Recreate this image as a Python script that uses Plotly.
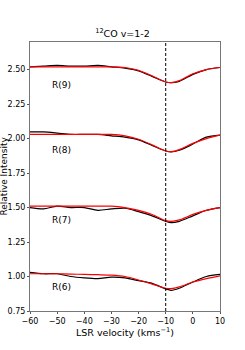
import plotly.graph_objects as go

vel = [-60, -55, -50, -45, -40, -35, -30, -25, -20, -15, -10, -8, -5, 0, 5, 10]

r9_obs = [2.52, 2.525, 2.53, 2.525, 2.525, 2.53, 2.52, 2.51, 2.49, 2.45, 2.41, 2.405, 2.415, 2.465, 2.50, 2.515]
r9_fit = [2.52, 2.52, 2.52, 2.52, 2.52, 2.52, 2.52, 2.515, 2.495, 2.455, 2.41, 2.405, 2.42, 2.47, 2.50, 2.515]

r8_obs = [2.048, 2.048, 2.04, 2.03, 2.03, 2.03, 2.02, 2.01, 1.99, 1.95, 1.91, 1.903, 1.915, 1.96, 2.01, 2.025]
r8_fit = [2.03, 2.03, 2.03, 2.03, 2.03, 2.03, 2.03, 2.02, 1.995, 1.955, 1.91, 1.905, 1.92, 1.965, 2.0, 2.025]

r7_obs = [1.50, 1.49, 1.51, 1.50, 1.50, 1.48, 1.49, 1.495, 1.47, 1.44, 1.40, 1.39, 1.40, 1.44, 1.48, 1.50]
r7_fit = [1.51, 1.51, 1.51, 1.51, 1.51, 1.51, 1.51, 1.50, 1.48, 1.45, 1.405, 1.40, 1.41, 1.45, 1.48, 1.50]

r6_obs = [1.03, 1.02, 1.02, 1.00, 0.99, 0.985, 0.995, 0.99, 0.97, 0.95, 0.91, 0.90, 0.915, 0.96, 1.0, 1.015]
r6_fit = [1.02, 1.02, 1.02, 1.018, 1.015, 1.013, 1.01, 1.0, 0.975, 0.945, 0.915, 0.912, 0.925, 0.96, 0.985, 1.005]

labels = ["R(9)", "R(8)", "R(7)", "R(6)"]
label_x = [-48.5, -48.5, -48.5, -48.5]
label_y = [2.39, 1.92, 1.41, 0.925]

x_ticks = [-60, -50, -40, -30, -20, -10, 0, 10]
y_ticks = [0.75, 1.00, 1.25, 1.50, 1.75, 2.00, 2.25, 2.50]
rest_velocity = -10

fig = go.Figure()
for obs, fit in [(r9_obs, r9_fit), (r8_obs, r8_fit), (r7_obs, r7_fit), (r6_obs, r6_fit)]:
    fig.add_trace(go.Scatter(x=vel, y=obs, mode="lines", line=dict(color="black", width=1.2, shape="spline", smoothing=0.8), showlegend=False))
    fig.add_trace(go.Scatter(x=vel, y=fit, mode="lines", line=dict(color="red", width=1.2, shape="spline", smoothing=0.8), showlegend=False))

fig.add_vline(x=rest_velocity, line=dict(color="black", width=1, dash="3px,2px"))

for t, xx, yy in zip(labels, label_x, label_y):
    fig.add_annotation(x=xx, y=yy, text=t, showarrow=False, font=dict(size=9, color="black", family="DejaVu Sans"))

# y-axis title as a rotated annotation at the far left
fig.add_annotation(xref="paper", yref="paper", x=-0.105, y=0.5, xanchor="right", yanchor="middle",
                   text="Relative Intensity", textangle=-90, showarrow=False,
                   font=dict(size=9, color="black", family="DejaVu Sans"))

fig.update_layout(
    width=245, height=350,
    margin=dict(l=30, r=25, t=42, b=39),
    plot_bgcolor="white", paper_bgcolor="white",
    title=dict(text="<sup>12</sup>CO v=1-2", x=0.5, xanchor="center", y=0.893, yanchor="bottom",
               font=dict(size=9.5, color="black", family="DejaVu Sans")),
    font=dict(family="DejaVu Sans", size=8, color="black"),
)
fig.update_xaxes(range=[-60, 10], tickvals=x_ticks, ticks="outside", ticklen=2, tickcolor="#555",
                 showgrid=False, zeroline=False, showline=True, linecolor="#777", linewidth=1, mirror=True,
                 automargin=False,
                 title=dict(text="LSR velocity (kms<sup>−1</sup>)", font=dict(size=9.5), standoff=2),
                 tickfont=dict(size=8))
fig.update_yaxes(range=[0.75, 2.7], tickvals=y_ticks, tickformat=".2f", ticks="outside", ticklen=2, tickcolor="#555",
                 showgrid=False, zeroline=False, showline=True, linecolor="#777", linewidth=1, mirror=True,
                 automargin=False, tickfont=dict(size=8))

fig.write_html("out.html", config={"displayModeBar": False},
               post_script="document.body.style.margin='0';")
